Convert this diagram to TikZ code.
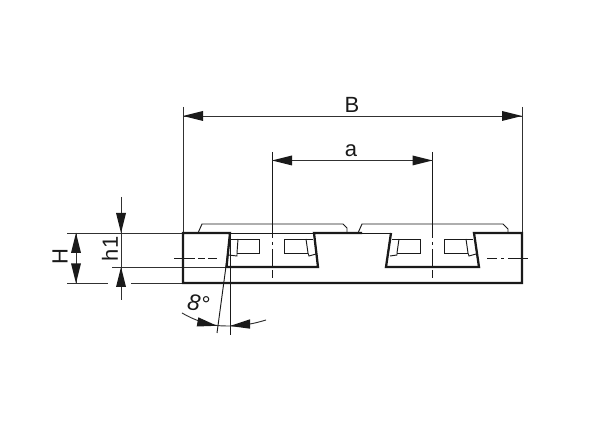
\documentclass[tikz,border=0pt]{standalone}
\usepackage{fontspec}
\setmainfont{Liberation Sans}
\definecolor{ink}{HTML}{1A1A1A}
\tikzset{
  x=0.75pt,y=-0.75pt,
  thick line/.style={line width=1.7pt,line join=miter,color=ink},
  thin line/.style={line width=0.7pt,color=ink},
  dim line/.style={line width=0.7pt,color=ink!90},
  tip/.style={fill=ink,draw=none},
  dimlabel/.style={font=\fontsize{16.5}{18}\selectfont,text=ink,inner sep=0pt}
}
\newcommand{\tipright}[2]{\fill[tip] (#1,#2) -- ++(-20,-5) -- ++(0,10) -- cycle;}
\newcommand{\tipleft}[2]{\fill[tip] (#1,#2) -- ++(20,-5) -- ++(0,10) -- cycle;}
\newcommand{\tipdown}[2]{\fill[tip] (#1,#2) -- ++(-5,-20) -- ++(10,0) -- cycle;}
\newcommand{\tipup}[2]{\fill[tip] (#1,#2) -- ++(-5,20) -- ++(10,0) -- cycle;}
\begin{document}
\begin{tikzpicture}
\useasboundingbox[fill=white] (0,0) rectangle (600,448);
% thin plates
\draw[thin line,line join=round] (198,233) -- (202,224) -- (343,224) -- (347,228) -- (347,233);
\draw[thin line,line join=round] (358,233) -- (362,224) -- (503,224) -- (508,229) -- (508,233);
\draw[thin line] (230,233) -- (391,233);
% inner details, channel 1
\draw[thin line] (231,239) -- (259,239) -- (259,253) -- (237,253);
\draw[thin line] (238,239) -- (237,253) -- (237,256) -- (228,255);
\draw[thin line] (306,239) -- (284,239) -- (284,253) -- (308,253);
\draw[thin line] (306,239) -- (308,253) -- (309,256) -- (316,254);
\draw[thin line] (306,239) -- (313,239);
% inner details, channel 2
\draw[thin line] (392,239) -- (420,239) -- (420,253) -- (397,253);
\draw[thin line] (399,239) -- (397,253) -- (397,255) -- (390,256);
\draw[thin line] (467,239) -- (444,239) -- (444,253) -- (468,253);
\draw[thin line] (466,239) -- (468,253) -- (469,256) -- (476,254);
\draw[thin line] (466,239) -- (473,239);
% centre lines
\draw[thin line] (272,152) -- (272,238) (272,242) -- (272,245) (272,249) -- (272,267) (272,270) -- (272,278);
\draw[thin line] (432.5,152) -- (432.5,238) (432.5,242) -- (432.5,245) (432.5,249) -- (432.5,267) (432.5,270) -- (432.5,278);
\draw[thin line] (174,258) -- (195,258) (198,258) -- (205,258) (208,258) -- (217,258);
\draw[thin line] (487,258) -- (497,258) (501,258) -- (504,258) (508,258) -- (528,258);
% extension lines
\draw[dim line] (183,107) -- (183,233);
\draw[dim line] (522,107) -- (522,233);
\draw[dim line] (67,233) -- (183,233);
\draw[dim line] (112,267) -- (227,267);
\draw[dim line] (67,283.5) -- (108,283.5) (131,283.5) -- (183,283.5);
% profile
\draw[thick line] (362,233) -- (314,233) -- (318,267) -- (226.5,267) -- (230,233) -- (183,233) -- (183,283) -- (522,283) -- (522,233) -- (474,233) -- (479,267) -- (386,267) -- (391,233);
% dimension B
\coordinate (bl) at (183,116);
\coordinate (br) at (522,116);
\draw[dim line] (bl) -- (br);
\tipleft{183}{116}
\tipright{522}{116}
\node[dimlabel] (labelB) at (352,104.5) {B};
% dimension a
\coordinate (al) at (272,160.5);
\coordinate (ar) at (432.5,160.5);
\draw[dim line] (al) -- (ar);
\tipleft{272}{160.5}
\tipright{432.5}{160.5}
\node[dimlabel] (labela) at (351,150.5) {a};
% dimension H
\coordinate (Ht) at (76,233);
\coordinate (Hb) at (76,283);
\draw[dim line] (Ht) -- (Hb);
\tipup{76}{233}
\tipdown{76}{283.5}
\node[dimlabel,rotate=90] (labelH) at (60,257) {H};
% dimension h1
\coordinate (ht) at (121,197);
\coordinate (hb) at (121,300);
\draw[dim line] (ht) -- (hb);
\tipdown{121}{233}
\tipup{121}{267}
\node[dimlabel,rotate=90] (labelh) at (110,249) {h1};
% angle
\draw[thin line] (230.5,233) -- (217,333);
\draw[thin line] (230,233) -- (230,335);
\coordinate (arcl) at (182,313);
\coordinate (arcr) at (266,320);
\draw[dim line] (arcl) .. controls (194,320) and (206,324) .. (217,325.5) .. controls (222,326) and (226,326) .. (230,326) .. controls (244,326) and (256,323) .. (arcr);
\fill[tip] (198.3,317.3) -- (196.7,326.5) -- (217,325.8) -- cycle;
\fill[tip] (250,319.3) -- (250,328.7) -- (230,326) -- cycle;
\node[dimlabel,font=\fontsize{17}{18}\selectfont\itshape,rotate=-8] (labelang) at (198.5,303.5) {8°};
\end{tikzpicture}
\end{document}
